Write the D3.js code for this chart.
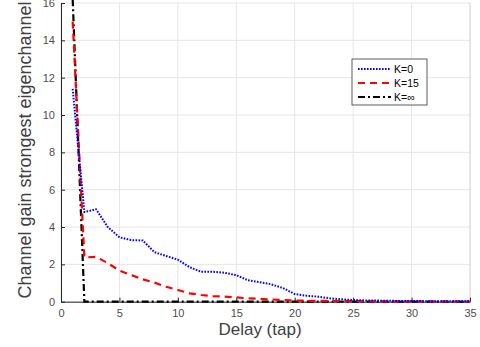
<!DOCTYPE html>
<html><head><meta charset="utf-8">
<script src="https://cdn.jsdelivr.net/npm/d3@7"></script>
<style>body{margin:0;background:#fff}svg{display:block;font-family:"Liberation Sans",Arial,sans-serif}</style>
</head><body><svg id="c" width="480" height="347"></svg>
<script>
const taps = d3.range(1, 36);
const k0 = [11.4,4.8,4.95,4.0,3.45,3.3,3.28,2.65,2.45,2.25,1.85,1.6,1.6,1.55,1.42,1.15,1.05,0.93,0.73,0.41,0.32,0.27,0.18,0.13,0.09,0.07,0.06,0.05,0.04,0.04,0.03,0.03,0.03,0.02,0.02];
const k15 = [15.0,2.37,2.4,2.07,1.66,1.43,1.2,1.02,0.8,0.63,0.45,0.36,0.3,0.27,0.23,0.18,0.15,0.12,0.09,0.06,0.05,0.04,0.04,0.03,0.03,0.02,0.02,0.02,0.02,0.02,0.01,0.01,0.01,0.01,0.01];
const kInf = [16.2,0,0,0,0,0,0,0,0,0,0,0,0,0,0,0,0,0,0,0,0,0,0,0,0,0,0,0,0,0,0,0,0,0,0];
const xTicks = [0,5,10,15,20,25,30,35];
const yTicks = [0,2,4,6,8,10,12,14,16];
const seriesNames = ["K=0","K=15","K=\u221e"];

const svg = d3.select("#c");
const L=61, R=470, T=3, B=301.7;
const x = d3.scaleLinear().domain([0,35]).range([L,R]);
const y = d3.scaleLinear().domain([0,16]).range([B,T]);

const g = svg.append("g");
g.selectAll(".gx").data(xTicks).enter().append("line")
 .attr("x1",d=>x(d)).attr("x2",d=>x(d)).attr("y1",T).attr("y2",B)
 .attr("stroke","#e6e6e6").attr("stroke-width",1);
g.selectAll(".gy").data(yTicks).enter().append("line")
 .attr("x1",L).attr("x2",R).attr("y1",d=>y(d)).attr("y2",d=>y(d))
 .attr("stroke","#e6e6e6").attr("stroke-width",1);
g.append("line").attr("x1",R).attr("x2",R).attr("y1",T).attr("y2",B).attr("stroke","#d9d9d9");

const xa = svg.append("g").attr("transform",`translate(0,${B})`)
 .call(d3.axisBottom(x).tickValues(xTicks).tickSizeInner(-4).tickSizeOuter(0).tickPadding(8));
const ya = svg.append("g").attr("transform",`translate(${L},0)`)
 .call(d3.axisLeft(y).tickValues(yTicks).tickSizeInner(-4).tickSizeOuter(0).tickPadding(6));
[xa,ya].forEach(a=>{
  a.select(".domain").attr("stroke","#262626");
  a.selectAll(".tick line").attr("stroke","#262626");
  a.selectAll("text").attr("fill","#4d4d4d").style("font-size","11px").style("font-family","Liberation Sans, Arial, sans-serif");
});

svg.append("clipPath").attr("id","cp").append("rect").attr("x",L).attr("y",0).attr("width",R-L+2).attr("height",B+2);
const line = d3.line().x((d,i)=>x(taps[i])).y(d=>y(d));
const styles = [
  {data:k0, color:"#0000ff", dash:"1.6,1.4", w:2},
  {data:k15, color:"#ff0000", dash:"7,5", w:2.2},
  {data:kInf, color:"#000000", dash:"7,3,2,3", w:2.2}
];
const pl = svg.append("g").attr("clip-path","url(#cp)");
styles.slice().reverse().forEach(s=>{
  pl.append("path").datum(s.data).attr("d",line).attr("fill","none")
   .attr("stroke",s.color).attr("stroke-width",s.w).attr("stroke-dasharray",s.dash);
});

const lg = svg.append("g").attr("transform","translate(352,59)");
lg.append("rect").attr("width",75).attr("height",46).attr("fill","#fff").attr("stroke","#333").attr("stroke-width",0.8);
styles.forEach((s,i)=>{
  const yy = 10+i*14;
  lg.append("line").attr("x1",6).attr("x2",39).attr("y1",yy).attr("y2",yy)
   .attr("stroke",s.color).attr("stroke-width",s.w).attr("stroke-dasharray",s.dash);
  lg.append("text").attr("x",42).attr("y",yy+4).text(seriesNames[i])
   .attr("fill","#000").style("font-size","10.5px");
});

svg.append("text").attr("x",260).attr("y",335).attr("text-anchor","middle")
 .style("font-size","17px").attr("fill","#404040").text("Delay (tap)");
svg.append("text").attr("transform","translate(31,150) rotate(-90)").attr("text-anchor","middle")
 .style("font-size","18px").attr("fill","#404040").text("Channel gain strongest eigenchannel");
</script></body></html>
